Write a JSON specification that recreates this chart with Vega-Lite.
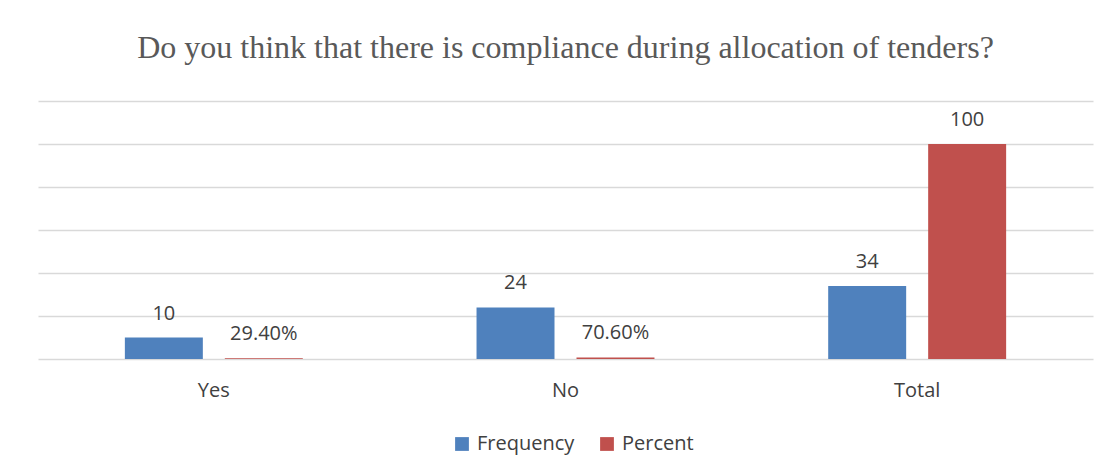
{
  "$schema": "https://vega.github.io/schema/vega-lite/v6.json",
  "width": 1055,
  "height": 258,
  "autosize": {"type": "none"},
  "padding": {"left": 38, "top": 101, "right": 20, "bottom": 116},
  "background": "white",
  "config": {"view": {"stroke": null}},
  "title": {
    "text": "Do you think that there is compliance during allocation of tenders?",
    "font": "Liberation Serif",
    "fontSize": 32,
    "fontWeight": "normal",
    "color": "#595959",
    "anchor": "middle",
    "offset": 36
  },
  "data": {
    "values": [
      {"category": "Yes", "series": "Frequency", "value": 10, "label": "10"},
      {"category": "Yes", "series": "Percent", "value": 0.294, "label": "29.40%"},
      {"category": "No", "series": "Frequency", "value": 24, "label": "24"},
      {"category": "No", "series": "Percent", "value": 0.706, "label": "70.60%"},
      {"category": "Total", "series": "Frequency", "value": 34, "label": "34"},
      {"category": "Total", "series": "Percent", "value": 100, "label": "100"}
    ]
  },
  "encoding": {
    "x": {
      "field": "category",
      "type": "nominal",
      "sort": ["Yes", "No", "Total"],
      "scale": {"paddingInner": 0.494, "paddingOuter": 0.247},
      "axis": {
        "title": null,
        "labelAngle": 0,
        "labelFont": "Open Sans",
        "labelFontSize": 20,
        "labelColor": "#404040",
        "labelPadding": 21,
        "ticks": false,
        "domain": false
      }
    },
    "xOffset": {
      "field": "series",
      "type": "nominal",
      "sort": ["Frequency", "Percent"],
      "scale": {"paddingInner": 0.22, "paddingOuter": 0}
    },
    "y": {
      "field": "value",
      "type": "quantitative",
      "scale": {"domain": [0, 120], "nice": false},
      "axis": {
        "title": null,
        "labels": false,
        "ticks": false,
        "domain": false,
        "values": [0, 20, 40, 60, 80, 100, 120],
        "gridColor": "#d9d9d9",
        "gridWidth": 1.5
      }
    }
  },
  "layer": [
    {
      "mark": {"type": "bar"},
      "encoding": {
        "color": {
          "field": "series",
          "type": "nominal",
          "sort": ["Frequency", "Percent"],
          "scale": {"domain": ["Frequency", "Percent"], "range": ["#4f81bd", "#c0504d"]},
          "legend": {
            "title": null,
            "orient": "none",
            "legendX": 414,
            "legendY": 333,
            "direction": "horizontal",
            "symbolType": "square",
            "symbolSize": 190,
            "symbolStrokeWidth": 0,
            "labelFont": "Open Sans",
            "labelFontSize": 20,
            "labelColor": "#404040",
            "labelOffset": 5,
            "columnPadding": 22
          }
        }
      }
    },
    {
      "mark": {"type": "text", "baseline": "bottom", "dy": -14, "font": "Open Sans", "fontSize": 20, "color": "#404040"},
      "encoding": {"text": {"field": "label"}}
    }
  ]
}
